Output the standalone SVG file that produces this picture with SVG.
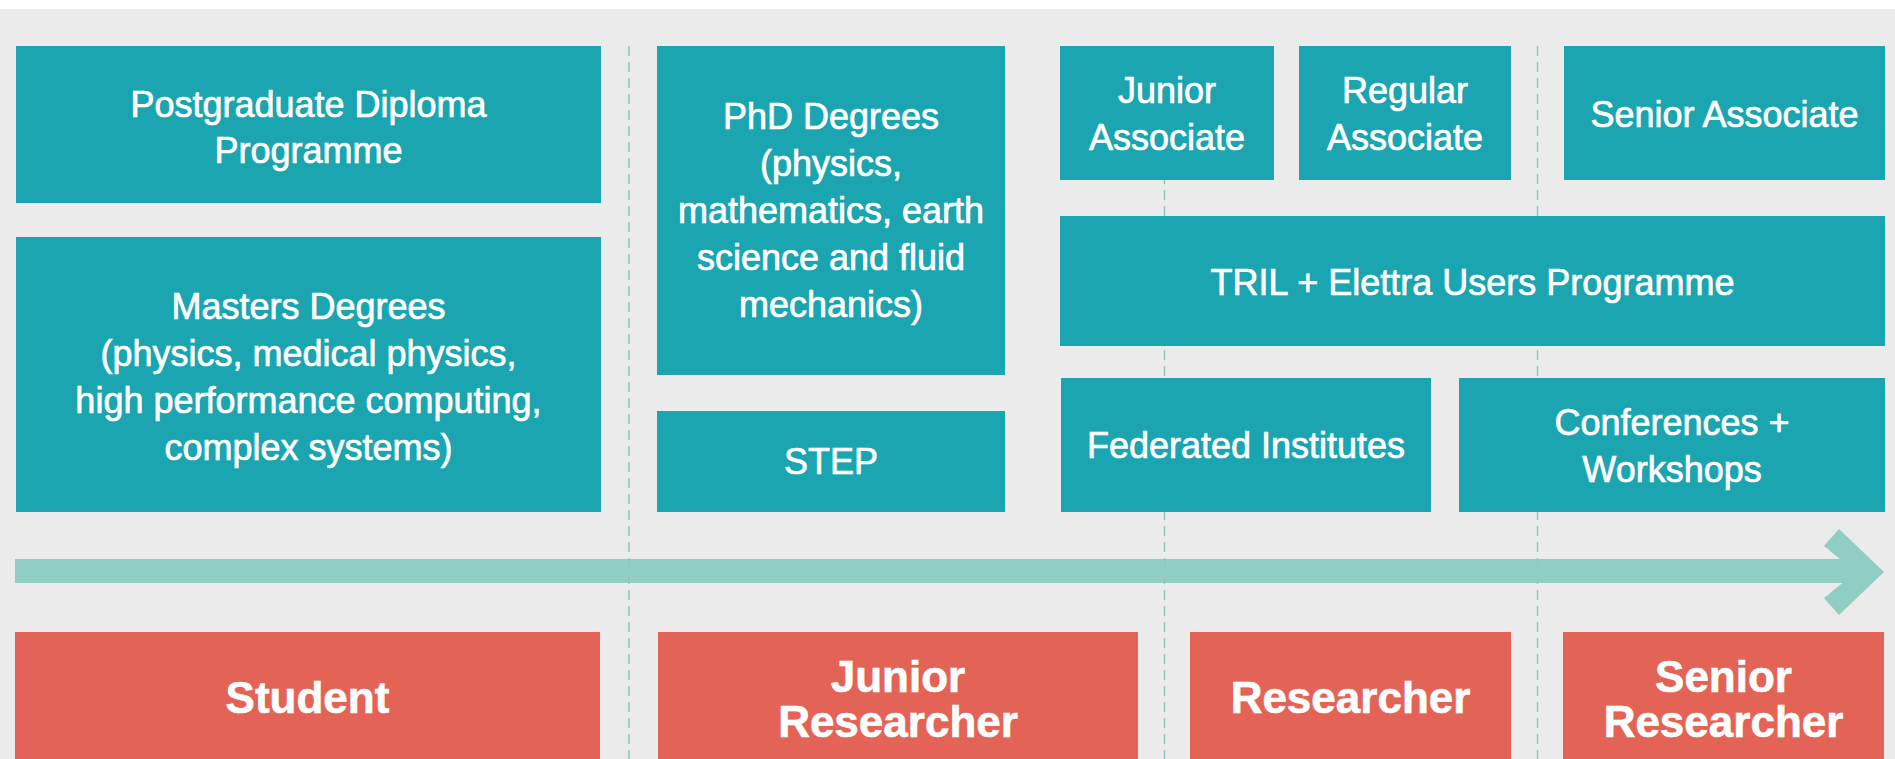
<svg xmlns="http://www.w3.org/2000/svg" width="1895" height="759" viewBox="0 0 1895 759">
<style>
.bg{fill:#ebebeb}
.t{fill:#1ba5b0}
.r{fill:#e36456}
.tt{font-family:"Liberation Sans",Arial,sans-serif;font-size:36px;fill:#ffffff;stroke:#ffffff;stroke-width:0.7;text-anchor:middle}
.rt{font-family:"Liberation Sans",Arial,sans-serif;font-size:44px;font-weight:bold;fill:#ffffff;stroke:#ffffff;stroke-width:0.6;text-anchor:middle}
.dash{stroke:#8fc6bf;stroke-width:1.5;stroke-dasharray:10 6;fill:none}
.arrow{fill:#90cdc3}
</style>
<rect x="0" y="0" width="1895" height="759" fill="#ffffff"/>
<rect class="bg" x="0" y="9" width="1895" height="750"/>
<g id="connectors">
<rect class="arrow" x="15" y="559" width="1850" height="24"/>
<polygon class="arrow" points="1824,546 1839,529 1884,572 1839,615 1824,598 1856,572"/>
<line class="dash" x1="629" y1="46" x2="629" y2="759"/>
<line class="dash" x1="1164.5" y1="46" x2="1164.5" y2="759"/>
<line class="dash" x1="1537.5" y1="46" x2="1537.5" y2="759"/>
</g>
<g id="postgraduate">
<rect class="t" x="16" y="46" width="585" height="157"/>
<text class="tt" x="308.5" y="117">Postgraduate Diploma</text>
<text class="tt" x="308.5" y="163">Programme</text>
</g>
<g id="masters">
<rect class="t" x="16" y="237" width="585" height="275"/>
<text class="tt" x="308.5" y="319">Masters Degrees</text>
<text class="tt" x="308.5" y="366">(physics, medical physics,</text>
<text class="tt" x="308.5" y="413">high performance computing,</text>
<text class="tt" x="308.5" y="460">complex systems)</text>
</g>
<g id="phd">
<rect class="t" x="657" y="46" width="348" height="329"/>
<text class="tt" x="831" y="129">PhD Degrees</text>
<text class="tt" x="831" y="176">(physics,</text>
<text class="tt" x="831" y="223">mathematics, earth</text>
<text class="tt" x="831" y="270">science and fluid</text>
<text class="tt" x="831" y="317">mechanics)</text>
</g>
<g id="step">
<rect class="t" x="657" y="411" width="348" height="101"/>
<text class="tt" x="831" y="474">STEP</text>
</g>
<g id="junior-associate">
<rect class="t" x="1060" y="46" width="214" height="134"/>
<text class="tt" x="1167" y="103">Junior</text>
<text class="tt" x="1167" y="150">Associate</text>
</g>
<g id="regular-associate">
<rect class="t" x="1299" y="46" width="212" height="134"/>
<text class="tt" x="1405" y="103">Regular</text>
<text class="tt" x="1405" y="150">Associate</text>
</g>
<g id="senior-associate">
<rect class="t" x="1564" y="46" width="321" height="134"/>
<text class="tt" x="1724.5" y="127">Senior Associate</text>
</g>
<g id="tril">
<rect class="t" x="1060" y="216" width="825" height="130"/>
<text class="tt" x="1472.5" y="295">TRIL + Elettra Users Programme</text>
</g>
<g id="federated">
<rect class="t" x="1061" y="378" width="370" height="134"/>
<text class="tt" x="1246" y="458">Federated Institutes</text>
</g>
<g id="conferences">
<rect class="t" x="1459" y="378" width="426" height="134"/>
<text class="tt" x="1672" y="435">Conferences +</text>
<text class="tt" x="1672" y="482">Workshops</text>
</g>
<g id="student">
<rect class="r" x="15" y="632" width="585" height="127"/>
<text class="rt" x="307.5" y="713">Student</text>
</g>
<g id="junior-researcher">
<rect class="r" x="658" y="632" width="480" height="127"/>
<text class="rt" x="898" y="692">Junior</text>
<text class="rt" x="898" y="737">Researcher</text>
</g>
<g id="researcher">
<rect class="r" x="1190" y="632" width="321" height="127"/>
<text class="rt" x="1350.5" y="713">Researcher</text>
</g>
<g id="senior-researcher">
<rect class="r" x="1563" y="632" width="321" height="127"/>
<text class="rt" x="1723.5" y="692">Senior</text>
<text class="rt" x="1723.5" y="737">Researcher</text>
</g>
</svg>
